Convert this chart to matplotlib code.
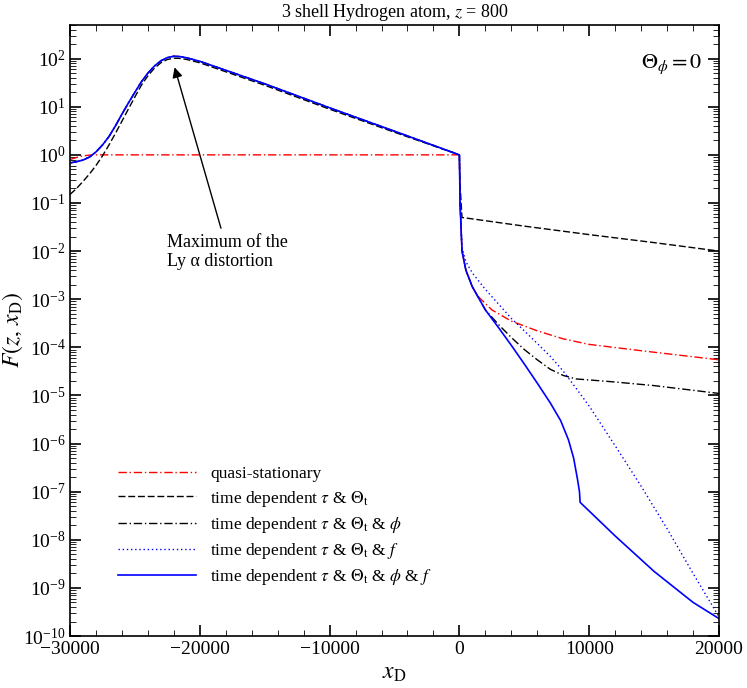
import numpy as np
import matplotlib
matplotlib.use("Agg")
import matplotlib.pyplot as plt
from matplotlib.ticker import LogLocator, MultipleLocator, NullFormatter

plt.rcParams["font.family"] = "Liberation Serif"
plt.rcParams["mathtext.fontset"] = "stix"

# left branch (shared by time dependent curves)
x_left = [-30000, -29500, -29000, -28500, -28000, -27500, -27000, -26500, -26000, -25500, -25000, -24500,
          -24000, -23500, -23000, -22500, -22000, -21500, -21000, -20000, -15000, -10000, -5000, 0]
y_blue_left = [0.68, 0.72, 0.78, 0.9, 1.15, 1.6, 2.4, 4.0, 7.0, 12, 20, 33,
               50, 70, 90, 105, 112, 110, 104, 88, 30, 9.5, 3.1, 1.0]
y_dash_left = [0.15, 0.2, 0.28, 0.4, 0.6, 0.95, 1.6, 2.8, 5.0, 9.0, 16, 28,
               44, 63, 82, 96, 102, 101, 96, 82, 28, 8.9, 2.95, 1.0]

x_qs = [-30000, -29500, -29000, -28500, -28000, -27000, 0, 50, 200, 500, 1000, 1500, 2500, 4000, 6000, 8000, 10000, 14000, 20000]
y_qs = [0.8, 0.88, 0.95, 0.99, 1.0, 1.0, 1.0, 0.1, 0.01, 4e-3, 1.8e-3, 1.1e-3, 6e-4, 3.5e-4, 2.2e-4, 1.5e-4, 1.15e-4, 8.5e-5, 5.5e-5]

x_td_r = [0, 30, 200, 5000, 10000, 15000, 20000]
y_td_r = [1.0, 0.3, 0.05, 0.033, 0.022, 0.015, 0.01]

x_phi_r = [0, 50, 200, 500, 1000, 2000, 3000, 4000, 5000, 6000, 7000, 8000, 9000, 10000, 12000, 15000, 20000]
y_phi_r = [1.0, 0.1, 0.01, 4e-3, 1.8e-3, 6e-4, 3e-4, 1.6e-4, 9e-5, 5.5e-5, 3.5e-5, 2.6e-5, 2.2e-5, 2.1e-5, 1.9e-5, 1.6e-5, 1.1e-5]

x_f_r = [0, 50, 200, 500, 1000, 2000, 3000, 4000, 5000, 6000, 7000, 8000, 9000, 10000, 12000, 14000, 16000, 18000, 20000]
y_f_r = [1.0, 0.1, 0.012, 6e-3, 3.5e-3, 1.6e-3, 8e-4, 4e-4, 2.2e-4, 1.2e-4, 6.5e-5, 3.2e-5, 1.4e-5, 6e-6, 9e-7, 1.3e-7, 1.7e-8, 2e-9, 2.5e-10]

x_b_r = [0, 50, 200, 500, 1000, 2000, 3000, 4000, 5000, 6000, 7000, 7800, 8400, 8800, 9100, 9250, 9300, 12000, 15000, 18000, 20000]
y_b_r = [1.0, 0.1, 0.01, 4e-3, 1.8e-3, 6e-4, 2.6e-4, 1.1e-4, 4.5e-5, 1.8e-5, 7e-6, 3e-6, 1.2e-6, 5e-7, 1.8e-7, 1e-7, 6e-8, 1.2e-8, 2.2e-9, 5e-10, 2.3e-10]

labels = ["quasi-stationary",
          r"time dependent $\tau$ & $\Theta_{\rm t}$",
          r"time dependent $\tau$ & $\Theta_{\rm t}$ & $\phi$",
          r"time dependent $\tau$ & $\Theta_{\rm t}$ & $f$",
          r"time dependent $\tau$ & $\Theta_{\rm t}$ & $\phi$ & $f$"]

fig = plt.figure(figsize=(7.47, 6.88), dpi=100)
ax = fig.add_axes([70/747, 52/688, 649/747, 611/688])

ax.plot(x_qs, y_qs, color="red", ls=(0, (6, 2, 1, 2)), lw=1, label=labels[0])
ax.plot(x_left + x_td_r[1:], y_dash_left + y_td_r[1:], color="black", ls=(0, (5, 2)), lw=1, label=labels[1])
ax.plot(x_left + x_phi_r[1:], y_blue_left + y_phi_r[1:], color="black", ls=(0, (6, 2, 1, 2)), lw=1, label=labels[2])
ax.plot(x_left + x_f_r[1:], y_blue_left + y_f_r[1:], color="blue", ls=(0, (1, 2)), lw=1, label=labels[3])
ax.plot(x_left + x_b_r[1:], y_blue_left + y_b_r[1:], color="blue", ls="-", lw=1.2, label=labels[4])

ax.set_yscale("log")
ax.set_xlim(-30000, 20000)
ax.set_ylim(1e-10, 5e2)
ax.xaxis.set_major_locator(MultipleLocator(10000))
ax.xaxis.set_minor_locator(MultipleLocator(2000))
ax.yaxis.set_major_locator(LogLocator(base=10, numticks=20))
ax.yaxis.set_minor_locator(LogLocator(base=10, subs=np.arange(2, 10), numticks=20))
ax.yaxis.set_minor_formatter(NullFormatter())
ax.tick_params(which="both", direction="in", top=True, right=True, labelsize=14)
ax.tick_params(axis="y", pad=3)
ax.tick_params(which="major", length=8, width=1.2)
ax.tick_params(which="minor", length=4)
for s in ax.spines.values():
    s.set_linewidth(1.2)

ax.set_xlabel(r"$x_{\rm D}$", fontsize=17)
ax.xaxis.set_label_coords(0.5, -0.045)
ax.set_ylabel(r"$F(z,\, x_{\rm D})$", fontsize=17)
ax.yaxis.set_label_coords(-0.07, 0.5)
ax.set_title(r"3 shell Hydrogen atom, $z$ = 800", fontsize=13, pad=6)

ax.text(0.975, 0.955, r"$\Theta_\phi = 0$", transform=ax.transAxes, ha="right", va="top", fontsize=16)
ax.annotate("Maximum of the\nLy α distortion", xy=(-22000, 75), xytext=(-22500, 0.004),
            fontsize=13, ha="left", va="bottom",
            arrowprops=dict(arrowstyle="-|>", color="black", lw=1, mutation_scale=15))

leg = ax.legend(loc="lower left", bbox_to_anchor=(0.05, 0.055), frameon=False, fontsize=12.5,
                handlelength=4.5, labelspacing=0.35)

fig.savefig("out.png", dpi=100)
